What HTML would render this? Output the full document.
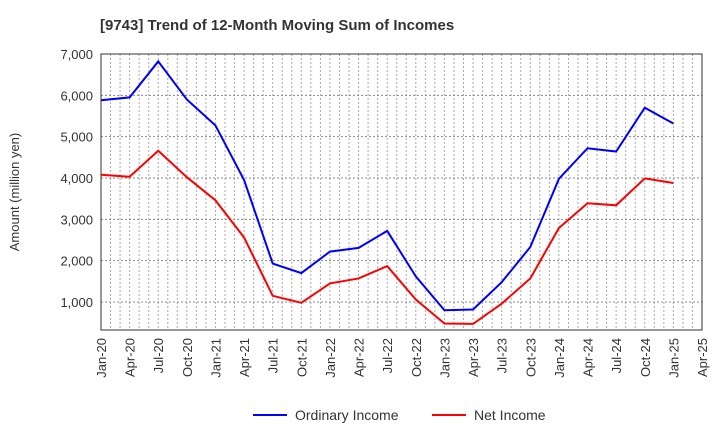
<!DOCTYPE html>
<html><head><meta charset="utf-8"><style>
body{margin:0;background:#fff;font-family:"Liberation Sans",sans-serif}
</style></head><body>
<svg id="c" width="720" height="440" xmlns="http://www.w3.org/2000/svg">
<text x="100" y="30" font-size="15" font-weight="bold" fill="#333">[9743]  Trend of 12-Month Moving Sum of Incomes</text>
<g id="grid"></g><g id="axes"></g><g id="series"></g>
<text transform="translate(19,192) rotate(-90)" text-anchor="middle" font-size="13" fill="#333">Amount (million yen)</text>
<g>
<line x1="253" y1="415" x2="287" y2="415" stroke="#0000ff" stroke-width="2"/>
<text x="295" y="420" font-size="14" fill="#333">Ordinary Income</text>
<line x1="432" y1="415" x2="466" y2="415" stroke="#ff0000" stroke-width="2"/>
<text x="474" y="420" font-size="14" fill="#333">Net Income</text>
</g>
</svg>
<script>
const xLabels=["Jan-20","Apr-20","Jul-20","Oct-20","Jan-21","Apr-21","Jul-21","Oct-21","Jan-22","Apr-22","Jul-22","Oct-22","Jan-23","Apr-23","Jul-23","Oct-23","Jan-24","Apr-24","Jul-24","Oct-24","Jan-25","Apr-25"];
const yTicks=[1000,2000,3000,4000,5000,6000,7000];
const ordinaryIncome=[5880,5950,6820,5900,5270,3950,1930,1700,2220,2310,2720,1620,800,820,1480,2330,3980,4720,4640,5700,5320];
const netIncome=[4080,4030,4660,4020,3460,2560,1150,980,1450,1570,1870,1060,480,470,960,1570,2790,3390,3340,3990,3880];
const L=101,R=702,T=54,B=330,yMin=323,yMax=7000;
const NS="http://www.w3.org/2000/svg";
const x=i=>L+(R-L)*i/(xLabels.length-1);
const y=v=>B-(B-T)*(v-yMin)/(yMax-yMin);
function mk(t,a,p){const e=document.createElementNS(NS,t);for(const k in a)e.setAttribute(k,a[k]);p.appendChild(e);return e;}
const g=document.getElementById('grid'),ax=document.getElementById('axes'),s=document.getElementById('series');
for(let m=1;m<(xLabels.length-1)*3;m++){const xx=L+(R-L)*m/((xLabels.length-1)*3);
const l=mk('line',{x1:xx,x2:xx,y1:T,y2:B,stroke:'#aaa','stroke-dasharray':'2,2','stroke-width':1},g);

}
yTicks.forEach(v=>{const l=mk('line',{x1:L,x2:R,y1:y(v),y2:y(v),stroke:'#888','stroke-dasharray':'2,2'},g);


const t=mk('text',{x:L-8,y:y(v)+5,'text-anchor':'end','font-size':13,fill:'#333'},ax);t.textContent=v.toLocaleString('en-US');

});
const fr=mk('rect',{x:L,y:T,width:R-L,height:B-T,fill:'none',stroke:'#333','stroke-width':1},ax);


xLabels.forEach((lb,i)=>{const t=mk('text',{transform:`translate(${x(i)+5},${B+8}) rotate(-90)`,'text-anchor':'end','font-size':13,fill:'#333'},ax);t.textContent=lb;

});
function line(d,c,n){const p=mk('polyline',{points:d.map((v,i)=>x(i)+','+y(v)).join(' '),fill:'none',stroke:c,'stroke-width':2},s);

}
line(ordinaryIncome,'#0000ff','ordinary-income-line');
line(netIncome,'#ff0000','net-income-line');
</script>
</body></html>
